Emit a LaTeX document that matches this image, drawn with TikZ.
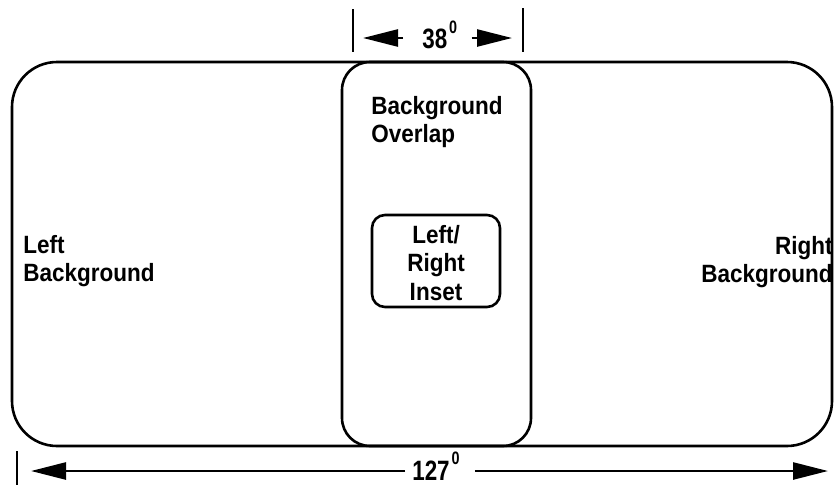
\documentclass[tikz,border=0pt]{standalone}
\usepackage{fontspec}
\setmainfont[FakeStretch=0.9]{Liberation Sans}
\newfontfamily\dimfont[FakeStretch=0.8]{Liberation Sans}
\usetikzlibrary{arrows.meta}

\tikzset{every picture/.style={line width=2.6pt}}
\tikzset{
  lbltext/.style={font=\fontsize{25}{28.5}\selectfont\bfseries, inner sep=0pt},
  dimtext/.style={font=\dimfont\fontsize{28}{28}\selectfont\bfseries, inner sep=0pt},
  dimarrow/.style={line width=2.6pt, -{Triangle[length=35pt,width=17pt]}},
}
\newcommand{\degsup}[1]{\kern2pt\raisebox{#1}{\fontsize{18}{18}\selectfont 0}}

\begin{document}
\begin{tikzpicture}[x=1pt,y=1pt,yscale=-1,xscale=1]
\useasboundingbox (0,0) rectangle (835,485);

%Shape: Rounded Rectangle [id:outerbox]
\draw [rounded corners=45pt] (12,62) rectangle (832,446);
%Shape: Rounded Rectangle [id:overlapbox]
\draw [rounded corners=28pt] (342,62) rectangle (531,446);
%Shape: Rounded Rectangle [id:insetbox]
\draw [rounded corners=13pt] (372,215) rectangle (500,307);

% Text Node
\node (leftbg) [lbltext, anchor=north west, align=left] at (22,234) {Left\\Background};
% Text Node
\node (overlap) [lbltext, anchor=north west, align=left] at (370,95) {Background\\Overlap};
% Text Node
\node (inset) [lbltext, anchor=north, align=center] at (436,224) {Left/\\Right\\Inset};
% Text Node
\node (rightbg) [lbltext, anchor=north east, align=right] at (834,235) {Right\\Background};

%Straight Lines [id:ticks]
\coordinate (tkla) at (353,9);  \coordinate (tklb) at (353,52);
\coordinate (tkra) at (523,8);  \coordinate (tkrb) at (523,52);
\coordinate (tkba) at (17,451); \coordinate (tkbb) at (17,485);
\draw (tkla) -- (tklb);
\draw (tkra) -- (tkrb);
\draw (tkba) -- (tkbb);

% Text Node
\node (ang38) [dimtext, anchor=base west] at (421,48) {38\degsup{15pt}};
% Text Node
\node (ang127) [dimtext, anchor=base west] at (411,480) {127\degsup{16pt}};

%Arrows [id:dimensions]
\coordinate (tip38l) at (363,38);  \coordinate (tip38r) at (512,38);
\coordinate (tip127l) at (31,471); \coordinate (tip127r) at (828,471);
\draw [dimarrow, shorten <=18pt] (ang38.west |- tip38l) -- (tip38l);
\draw [dimarrow, shorten <=13pt] (ang38.east |- tip38r) -- (tip38r);
\draw [dimarrow, shorten <=6pt] (ang127.west |- tip127l) -- (tip127l);
\draw [dimarrow, shorten <=14pt] (ang127.east |- tip127r) -- (tip127r);

\end{tikzpicture}
\end{document}
